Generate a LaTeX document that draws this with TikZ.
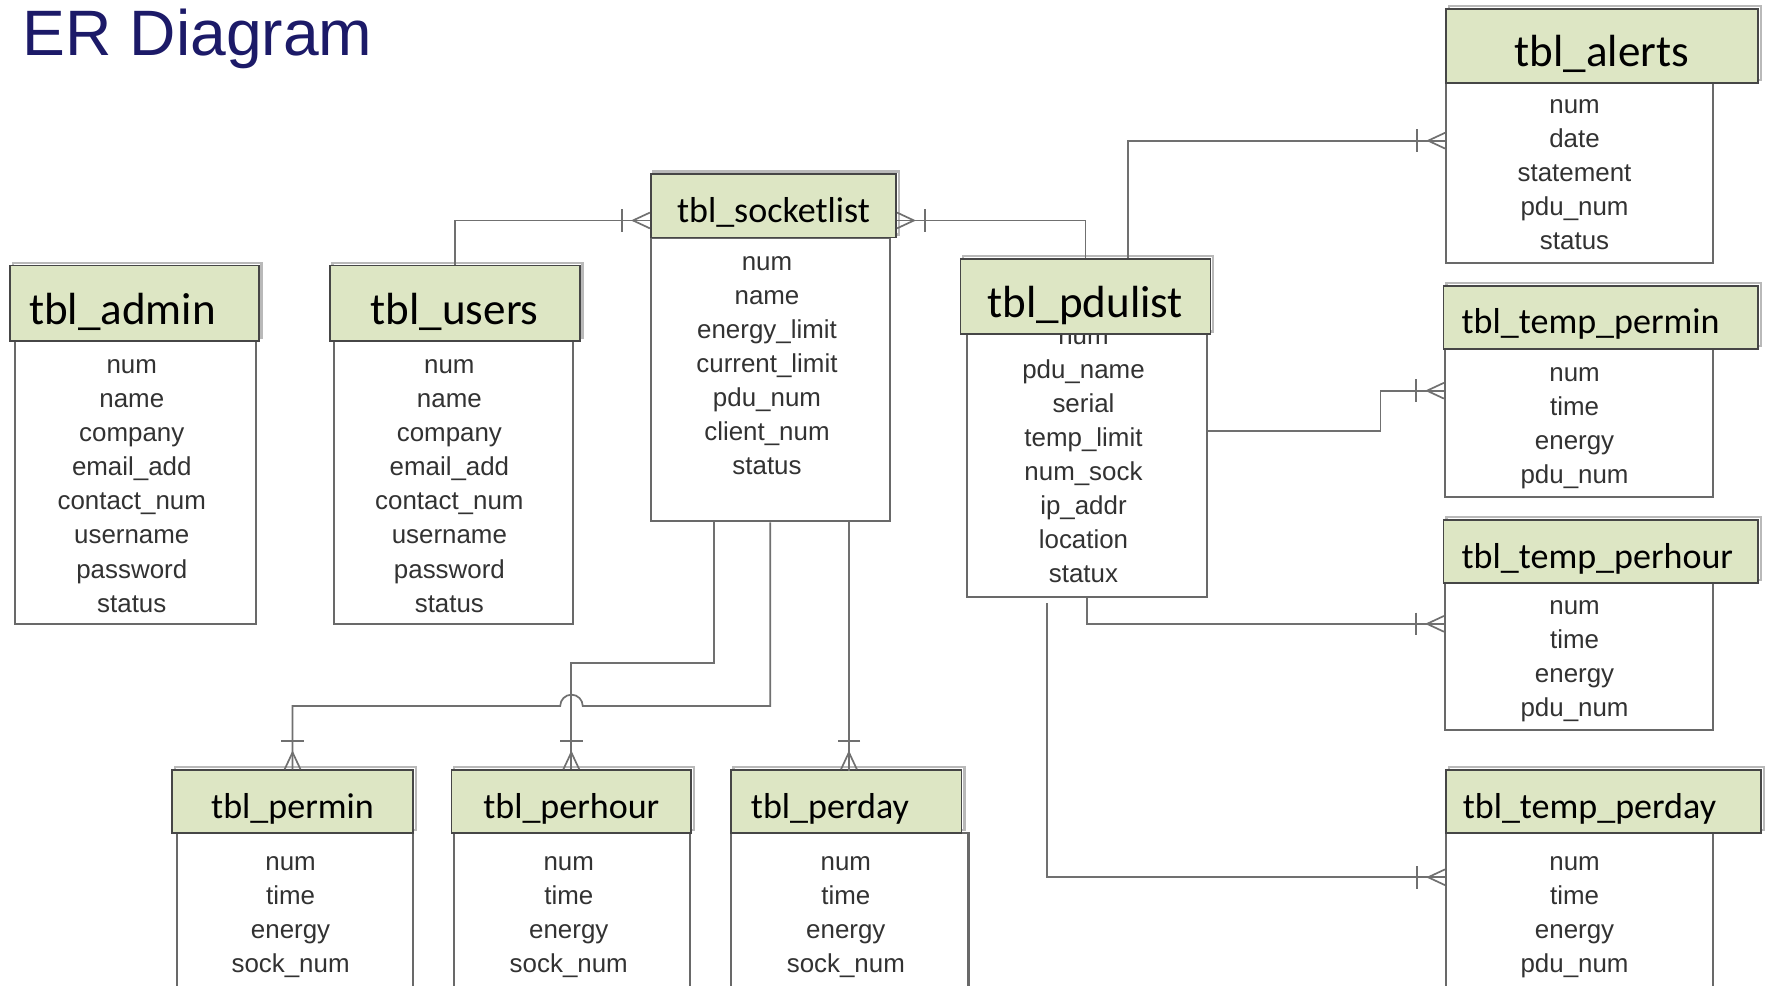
\documentclass[tikz,border=0pt]{standalone}
\usepackage{fontspec}
\setmainfont{Carlito}
\newfontfamily\attrfont{Liberation Sans}
\newfontfamily\titlefont{Liberation Sans}
\usetikzlibrary{calc}
\definecolor{hdrfill}{RGB}{221,230,196}
\definecolor{navy}{RGB}{28,26,104}
\definecolor{conncol}{RGB}{112,112,112}
\definecolor{boxline}{RGB}{70,70,70}
\definecolor{bodyline}{RGB}{105,105,105}
\definecolor{attrcol}{RGB}{50,50,50}
\tikzset{
  hdr/.style={draw=boxline, fill=hdrfill, line width=1.5pt, anchor=north west, inner sep=0pt,
    text=black,
    preaction={draw=gray!55, line width=2pt, transform canvas={xshift=2.5pt,yshift=2.5pt}}},
  hdrbig/.style={hdr, font=\fontsize{40}{40}\selectfont, text height=37pt, text depth=0pt},
  hdrsmall/.style={hdr, font=\fontsize{32}{32}\selectfont, text height=29.5pt, text depth=0pt},
  bodybox/.style={draw=bodyline, line width=1.8pt, fill=white, anchor=north west, inner sep=0pt},
  attr/.style={font=\attrfont\fontsize{23}{23}\selectfont, text=attrcol, anchor=base, inner sep=0pt},
  conn/.style={draw=conncol, line width=1.5pt},
}
\newcommand\attrlist[4]{\foreach \t [count=\i] in {#4} {\node[attr] (#1-\i) at (#2, {#3+30.2*(\i-1)}) {\t};}}
\newcommand\crow[2]{\begin{scope}[shift={#1}, rotate=#2]
  \draw[conn] (0pt,7pt) -- (15pt,0pt) -- (0pt,-7pt);
  \draw[conn] (25pt,-10pt) -- (25pt,10pt);
\end{scope}}
\begin{document}
\begin{tikzpicture}[x=1pt,y=-1pt]
\useasboundingbox (0,0) rectangle (1568,875);
\clip (0,0) rectangle (1568,875);
\fill[white] (0,0) rectangle (1568,875);

\node[anchor=base west, font=\titlefont\fontsize{57}{57}\selectfont, text=navy, inner sep=0pt] (title) at (20,49) {ER Diagram};

% bodies
\node[bodybox, minimum width=214pt, minimum height=251pt] (adminb) at (12,302) {};
\node[bodybox, minimum width=212pt, minimum height=251pt] (usersb) at (296,302) {};
\node[bodybox, minimum width=212pt, minimum height=252pt] (socketb) at (577,210) {};
\node[bodybox, minimum width=213pt, minimum height=233pt] (pdulistb) at (858,296) {};
\node[bodybox, minimum width=237pt, minimum height=160pt] (alertsb) at (1283,73) {};
\node[bodybox, minimum width=238pt, minimum height=131pt] (tpminb) at (1282,309) {};
\node[bodybox, minimum width=238pt, minimum height=130pt] (tphourb) at (1282,517) {};
\node[bodybox, minimum width=237pt, minimum height=161pt] (tpdayb) at (1283,739) {};
\node[bodybox, minimum width=210pt, minimum height=161pt] (perminb) at (156,739) {};
\node[bodybox, minimum width=210pt, minimum height=161pt] (perhourb) at (402,739) {};
\node[bodybox, minimum width=211pt, minimum height=161pt] (perdayb) at (648,739) {};

% attributes
\attrlist{adm}{117}{332}{num,name,company,email\_add,contact\_num,username,password,status}
\attrlist{usr}{399}{332}{num,name,company,email\_add,contact\_num,username,password,status}
\attrlist{sck}{681}{240}{num,name,energy\_limit,current\_limit,pdu\_num,client\_num,status}
\attrlist{pdu}{962}{306}{num,pdu\_name,serial,temp\_limit,num\_sock,ip\_addr,location,statux}
\attrlist{alr}{1398}{101}{num,date,statement,pdu\_num,status}
\attrlist{tpm}{1398}{339}{num,time,energy,pdu\_num}
\attrlist{tph}{1398}{546}{num,time,energy,pdu\_num}
\attrlist{tpd}{1398}{773}{num,time,energy,pdu\_num}
\attrlist{pmn}{258}{773}{num,time,energy,sock\_num}
\attrlist{phr}{505}{773}{num,time,energy,sock\_num}
\attrlist{pdy}{751}{773}{num,time,energy,sock\_num}

% headers
\node[hdrbig, minimum width=221pt, minimum height=67pt, text width=187pt, align=left, inner xsep=17pt] (admin) at (8,235) {tbl\_admin};
\node[hdrbig, minimum width=222pt, minimum height=67pt] (users) at (292,235) {tbl\_users};
\node[hdrsmall, minimum width=218pt, minimum height=56pt] (socket) at (577,154) {tbl\_socketlist};
\node[hdrbig, minimum width=222pt, minimum height=67pt] (pdulist) at (852,229) {tbl\_pdulist};
\node[hdrbig, minimum width=277pt, minimum height=66pt] (alerts) at (1283,7) {tbl\_alerts};
\node[hdrsmall, minimum width=279pt, minimum height=56pt, text width=247pt, align=left, inner xsep=16pt] (tpmin) at (1281,253) {tbl\_temp\_permin};
\node[hdrsmall, minimum width=279pt, minimum height=56pt, text width=247pt, align=left, inner xsep=16pt] (tphour) at (1281,461) {tbl\_temp\_perhour};
\node[hdrsmall, minimum width=280pt, minimum height=56pt, text width=250pt, align=left, inner xsep=15pt] (tpday) at (1283,683) {tbl\_temp\_perday};
\node[hdrsmall, minimum width=214pt, minimum height=56pt] (permin) at (152,683) {tbl\_permin};
\node[hdrsmall, minimum width=213pt, minimum height=56pt] (perhour) at (400,683) {tbl\_perhour};
\node[hdrsmall, minimum width=205pt, minimum height=56pt, text width=169pt, align=left, inner xsep=18pt] (perday) at (648,683) {tbl\_perday};

% connectors
\draw[conn] (users.north) |- ([yshift=-13pt]socket.west);
\crow{([yshift=-13pt]socket.west)}{180}
\draw[conn] ([yshift=-13pt]socket.east) -| (pdulist.north);
\crow{([yshift=-13pt]socket.east)}{0}
\draw[conn] ([xshift=38pt]pdulist.north) |- ([yshift=29pt]alertsb.west);
\crow{([yshift=29pt]alertsb.west)}{180}
\draw[conn] ([yshift=30.5pt]pdulistb.east) -- ++(153,0) |- ([yshift=28.5pt]tpminb.west);
\crow{([yshift=28.5pt]tpminb.west)}{180}
\draw[conn] (pdulistb.south) |- ([yshift=29pt]tphourb.west);
\crow{([yshift=29pt]tphourb.west)}{180}
\draw[conn] ([xshift=-35.5pt,yshift=-5pt]pdulistb.south) |- ([yshift=41.5pt]tpdayb.west);
\crow{([yshift=41.5pt]tpdayb.west)}{180}
\draw[conn] ([xshift=-50pt]socketb.south) -- ++(0,125) -| (perhour.north);
\crow{(perhour.north)}{90}
\draw[conn] (socketb.south) -- ++(0,163) -- ++(-166.5,0) arc[start angle=0, end angle=180, radius=10pt] -| (permin.north);
\crow{(permin.north)}{90}
\draw[conn] ([xshift=70pt]socketb.south) -- ++(0,221);
\crow{([xshift=2.5pt]perday.north)}{90}
\end{tikzpicture}
\end{document}
